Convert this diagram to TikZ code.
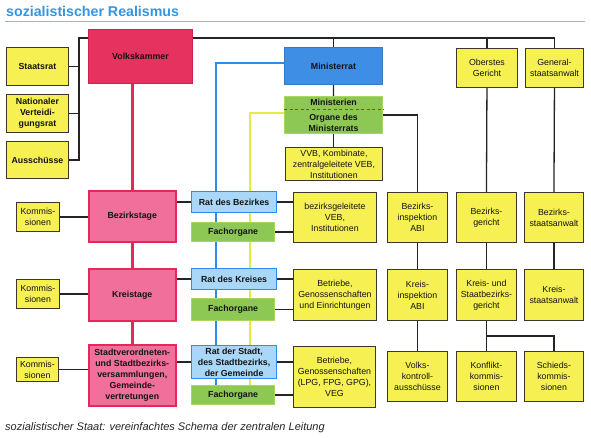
\documentclass[tikz,border=0pt]{standalone}
\usepackage{fontspec}
\setmainfont{Liberation Sans}
\usetikzlibrary{backgrounds}
\definecolor{yel}{RGB}{246,240,82}
\definecolor{boxline}{RGB}{60,55,45}
\definecolor{vkred}{RGB}{229,50,95}
\definecolor{vkdark}{RGB}{205,35,80}
\definecolor{pinkfill}{RGB}{240,112,155}
\definecolor{pinkline}{RGB}{228,40,92}
\definecolor{mrblue}{RGB}{62,142,230}
\definecolor{ratblue}{RGB}{168,215,248}
\definecolor{lineblue}{RGB}{42,140,235}
\definecolor{grn}{RGB}{142,200,84}
\definecolor{grnline}{RGB}{170,215,95}
\definecolor{lineyel}{RGB}{228,234,70}
\definecolor{connc}{RGB}{40,35,35}
\definecolor{titleblue}{RGB}{52,150,225}
\definecolor{rulebl}{RGB}{125,190,240}
\tikzset{
  base/.style={anchor=north west, inner sep=0pt, align=center, text=black!92,
    font=\fontsize{8.8}{11}\selectfont},
  bbase/.style={base, font=\fontsize{8.8}{11}\selectfont\bfseries},
  yr/.style={base, fill=yel, draw=boxline, line width=0.9pt},
  yb/.style={bbase, fill=yel, draw=boxline, line width=0.9pt},
  vkbox/.style={bbase, fill=vkred, draw=vkdark, line width=0.9pt},
  pk/.style={bbase, fill=pinkfill, draw=pinkline, line width=1.5pt},
  mrbox/.style={bbase, fill=mrblue, draw=mrblue!85!black, line width=0.9pt},
  rat/.style={bbase, fill=ratblue, draw=lineblue, line width=1.2pt},
  gr/.style={bbase, fill=grn, draw=grnline, line width=1.2pt},
  conn/.style={draw=connc, line width=1.3pt},
  pinkconn/.style={draw=pinkline, line width=2.8pt},
  blueconn/.style={draw=lineblue, line width=2.2pt},
  yelconn/.style={draw=lineyel, line width=2.2pt},
}
\newcommand\bx[7]{\node[#6, minimum width={(#4-#2)*1pt}, minimum height={(#5-#3)*1pt}] (#1) at (#2,#3) {#7};}
\begin{document}
\begin{tikzpicture}[x=1pt,y=-1pt]
\useasboundingbox (0,0) rectangle (591,437);
% title
\node[anchor=base west, inner sep=0pt, text=titleblue, font=\fontsize{14.2}{16}\selectfont\bfseries] (title) at (6,16) {sozialistischer Realismus};
\draw[draw=rulebl, line width=1pt] (5,21) -- (585,21);
% boxes
\bx{staatsrat}{6}{47}{68}{85}{yb}{Staatsrat}
\bx{nvr}{6}{94}{68}{132}{yb}{Nationaler\\Verteidi-\\gungsrat}
\bx{aussch}{6}{141}{68}{178}{yb}{Ausschüsse}
\bx{vk}{88}{29}{192}{83}{vkbox}{Volkskammer}
\bx{mr}{284}{47}{382}{84}{mrbox}{Ministerrat}
\bx{mo}{284}{96}{382}{133}{gr}{Ministerien\\[3.5pt]Organe des\\Ministerrats}
\bx{vvb}{285}{147}{382}{180}{yr}{VVB, Kombinate,\\zentralgeleitete VEB,\\Institutionen}
\bx{og}{456}{48}{517}{87}{yr}{Oberstes\\Gericht}
\bx{gsa}{525}{48}{583}{87}{yr}{General-\\staatsanwalt}
\bx{kom1}{16}{202}{59}{231}{yr}{Kommis-\\sionen}
\bx{bt}{88}{190}{175}{241}{pk}{Bezirkstage}
\bx{rb}{191}{191}{276}{212}{rat}{Rat des Bezirkes}
\bx{fo1}{191}{222}{274}{241}{gr}{Fachorgane}
\bx{bveb}{293}{192}{376}{242}{yr}{bezirksgeleitete\\VEB,\\Institutionen}
\bx{bi}{387}{192}{447}{242}{yr}{Bezirks-\\inspektion\\ABI}
\bx{bg}{456}{192}{516}{242}{yr}{Bezirks-\\gericht}
\bx{bsa}{524}{192}{583}{242}{yr}{Bezirks-\\staatsanwalt}
\bx{kom2}{16}{279}{59}{308}{yr}{Kommis-\\sionen}
\bx{kt}{88}{268}{175}{320}{pk}{Kreistage}
\bx{rk}{191}{268}{276}{289}{rat}{Rat des Kreises}
\bx{fo2}{191}{298}{274}{320}{gr}{Fachorgane}
\bx{betr1}{293}{269}{376}{320}{yr}{Betriebe,\\Genossenschaften\\und Einrichtungen}
\bx{ki}{387}{269}{447}{320}{yr}{Kreis-\\inspektion\\ABI}
\bx{kg}{456}{269}{516}{320}{yr}{Kreis- und\\Staatbezirks-\\gericht}
\bx{ksa}{524}{269}{583}{320}{yr}{Kreis-\\staatsanwalt}
\bx{kom3}{16}{357}{58}{381}{yr}{Kommis-\\sionen}
\bx{sv}{88}{344}{175}{405}{pk}{Stadtverordneten-\\und Stadtbezirks-\\versammlungen,\\Gemeinde-\\vertretungen}
\bx{rs}{191}{345}{276}{378}{rat}{Rat der Stadt,\\des Stadtbezirks,\\der Gemeinde}
\bx{fo3}{191}{385}{274}{404}{gr}{Fachorgane}
\bx{betr2}{293}{346}{375}{407}{yr}{Betriebe,\\Genossenschaften\\(LPG, FPG, GPG),\\VEG}
\bx{vka}{387}{351}{447}{401}{yr}{Volks-\\kontroll-\\ausschüsse}
\bx{kk}{456}{351}{516}{401}{yr}{Konflikt-\\kommis-\\sionen}
\bx{sk}{524}{351}{583}{401}{yr}{Schieds-\\kommis-\\sionen}
% dashed divider inside Ministerien box
\draw[draw=black!65, line width=0.8pt, dash pattern=on 3pt off 2.5pt] (mo.west |- 0,109) -- (mo.east |- 0,109);
% caption
\node[anchor=base west, inner sep=0pt, text=black!85, font=\fontsize{11}{13}\selectfont\itshape] (caption) at (5,430) {sozialistischer Staat: vereinfachtes Schema der zentralen Leitung};
% connectors
\coordinate (b1) at (79,38);
\coordinate (bl) at (216,385);
\coordinate (yl) at (250,385);
\coordinate (kgb) at (487,336);
\begin{scope}[on background layer]
  \fill[white] (0,0) rectangle (591,437);
  \draw[blueconn] (mr.west |- 0,63) -| (bl);
  \draw[yelconn] (mo.west |- 0,113) -| (yl);
  \draw[pinkconn] (bt.north |- vk.south) -- (bt.north);
  \draw[pinkconn] (bt.south) -- (kt.north);
  \draw[pinkconn] (kt.south) -- (sv.north);
  \draw[conn] (b1 -| vk.west) -- (b1) |- (aussch.east);
  \draw[conn] (staatsrat.east) -- (staatsrat.east -| b1);
  \draw[conn] (nvr.east) -- (nvr.east -| b1);
  \draw[conn] (vk.east |- b1) -| (gsa.north);
  \draw[conn] (mr.north |- b1) -- (mr.north);
  \draw[conn] (og.north |- b1) -- (og.north);
  \draw[conn] (mr.south) -- (mo.north);
  \draw[conn] (mo.south) -- (vvb.north -| mo.south);
  \draw[conn] (mo.east) -| (bi.north);
  \draw[conn] (bi.south) -- (ki.north);
  \draw[conn] (ki.south) -- (vka.north);
  \draw[conn] (og.south) -- (bg.north);
  \draw[conn] (bg.south) -- (kg.north);
  \draw[conn] (kg.south) -- (kk.north);
  \draw[conn] (kgb) -| (sk.north);
  \draw[conn] (gsa.south) -- (bsa.north);
  \draw[conn] (bsa.south) -- (ksa.north);
  \draw[conn] (kom1.east) -- (kom1.east -| bt.west);
  \draw[conn] (kom2.east) -- (kom2.east -| kt.west);
  \draw[conn] (kom3.east) -- (kom3.east -| sv.west);
  \draw[conn] (rb.west -| bt.east) -- (rb.west);
  \draw[conn] (rk.west -| kt.east) -- (rk.west);
  \draw[conn] (rs.west -| sv.east) -- (rs.west);
  \draw[conn] (rb.east) -- (rb.east -| bveb.west);
  \draw[conn] (fo1.east) -- (fo1.east -| bveb.west);
  \draw[conn] (rk.east) -- (rk.east -| betr1.west);
  \draw[conn] (fo2.east) -- (fo2.east -| betr1.west);
  \draw[conn] (rs.east) -- (rs.east -| betr2.west);
  \draw[conn] (fo3.east) -- (fo3.east -| betr2.west);
\end{scope}
\end{tikzpicture}
\end{document}
